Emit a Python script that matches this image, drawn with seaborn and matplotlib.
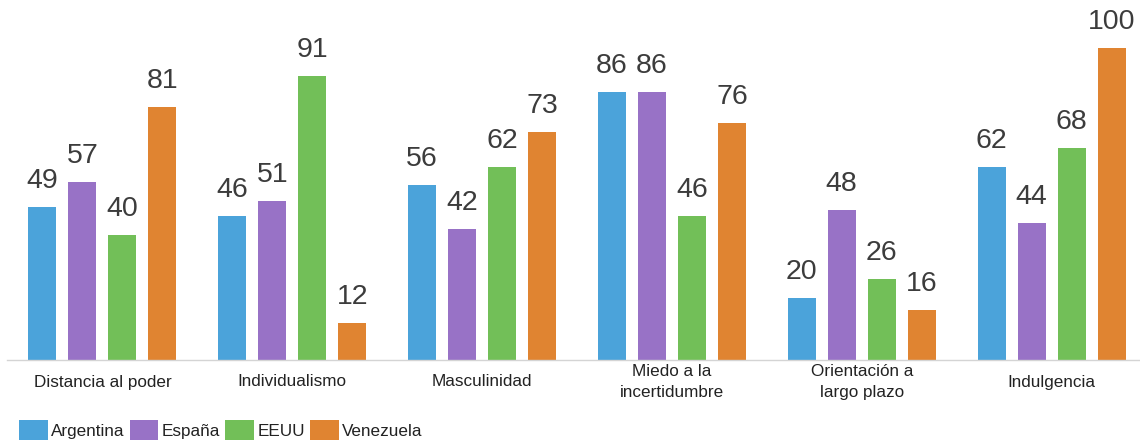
import matplotlib
matplotlib.use("Agg")
import matplotlib.pyplot as plt
import matplotlib.patches as mpatches
import seaborn as sns
import pandas as pd

categories = ["Distancia al poder", "Individualismo", "Masculinidad",
              "Miedo a la\nincertidumbre", "Orientación a\nlargo plazo", "Indulgencia"]
countries = ["Argentina", "España", "EEUU", "Venezuela"]
argentina = [49, 46, 56, 86, 20, 62]
espana = [57, 51, 42, 86, 48, 44]
eeuu = [40, 91, 62, 46, 26, 68]
venezuela = [81, 12, 73, 76, 16, 100]
colors = ["#4BA3DA", "#9872C6", "#72BF58", "#E08431"]

series = [argentina, espana, eeuu, venezuela]
rows = []
for c, vals in zip(countries, series):
    for cat, v in zip(categories, vals):
        rows.append({"dim": cat, "value": v, "country": c})
df = pd.DataFrame(rows)

sns.set_theme(style="white")
plt.rcParams["font.family"] = ["Liberation Sans", "DejaVu Sans"]

W, H = 1140, 441
fig = plt.figure(figsize=(W / 100, H / 100), dpi=100)
ax = fig.add_axes([7 / W, 81 / H, (W - 7) / W, 312 / H])

sns.barplot(data=df, x="dim", y="value", hue="country", order=categories,
            hue_order=countries, palette=colors, width=0.843, gap=0.3,
            saturation=1, linewidth=0, ax=ax, legend=False)

ax.set_xlim(-0.503, 5.466)
ax.set_ylim(0, 100)
for cont in ax.containers:
    ax.bar_label(cont, padding=9.4, fontsize=20.5, color="#3c3c3c", clip_on=False)

sns.despine(ax=ax, left=True, top=True, right=True)
ax.spines["bottom"].set_color("#d4d4d4")
ax.spines["bottom"].set_linewidth(1.0)
ax.set_yticks([])
ax.set_xticks(range(len(categories)))
ax.set_xticklabels([])
ax.tick_params(axis="x", length=0)
ax.set_xlabel("")
ax.set_ylabel("")

for i, cat in enumerate(categories):
    ax.annotate(cat, xy=(i, 0), xycoords=("data", "data"), xytext=(0, -22 * 0.72),
                textcoords="offset points", ha="center", va="center",
                fontsize=12.3, color="#222222", linespacing=1.45, annotation_clip=False)

handles = [mpatches.Patch(facecolor=c, edgecolor="none", label=n) for c, n in zip(colors, countries)]
fig.legend(handles=handles, loc="center left", bbox_to_anchor=(19 / W, 11 / H),
           ncol=4, frameon=False, fontsize=12.3, handlelength=1.68, handleheight=1.45,
           handletextpad=0.2, columnspacing=0.3, borderpad=0, borderaxespad=0,
           labelcolor="#222222")

fig.savefig("out.png", dpi=100)
